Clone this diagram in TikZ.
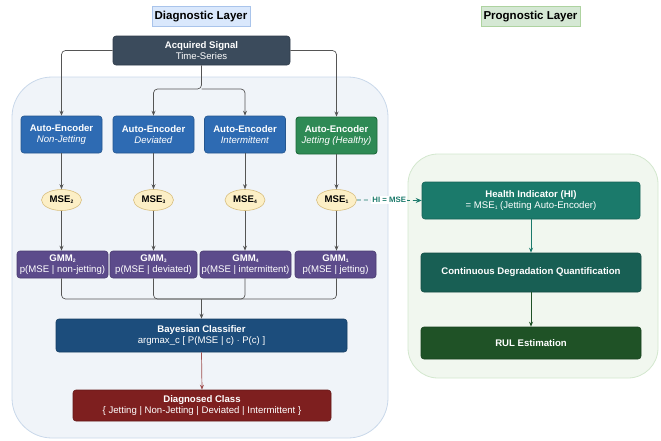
\documentclass[tikz,border=0pt]{standalone}
\usepackage{fontspec}
\setmainfont{Liberation Sans}
\usetikzlibrary{arrows.meta,calc,shapes.geometric}
\newcommand\subidx[1]{\raisebox{-1.2pt}{\fontsize{5}{5}\selectfont #1}}
\definecolor{acqc}{HTML}{3B4B5C}
\definecolor{aeblue}{HTML}{2E6BB3}
\definecolor{aegreen}{HTML}{2E8A55}
\definecolor{aegreendk}{HTML}{1D6A3B}
\definecolor{msefill}{HTML}{FCEFC6}
\definecolor{msedraw}{HTML}{D8BE7E}
\definecolor{gmmc}{HTML}{5C4B8B}
\definecolor{bayesc}{HTML}{1C4D7C}
\definecolor{diagc}{HTML}{7E1F1F}
\definecolor{hic}{HTML}{1B7A6B}
\definecolor{cdqc}{HTML}{185F54}
\definecolor{rulc}{HTML}{1F5226}
\definecolor{diagbg}{HTML}{F0F4F9}
\definecolor{diagbd}{HTML}{C9D8EA}
\definecolor{progbg}{HTML}{F1F7EF}
\definecolor{progbd}{HTML}{D3E7CE}
\definecolor{dlfill}{HTML}{DAE8FC}
\definecolor{dldraw}{HTML}{A9C4EB}
\definecolor{plfill}{HTML}{D5E8D4}
\definecolor{pldraw}{HTML}{AED3A0}
\definecolor{linec}{HTML}{555555}
\definecolor{arrred}{HTML}{A05050}
\tikzset{
  basefont/.style={font=\fontsize{9.6}{11.2}\selectfont},
  box/.style={basefont, text=white, rounded corners=3, inner sep=0pt, align=center, draw=#1!80!black, fill=#1, line width=0.6pt},
  laytitle/.style={font=\fontsize{11.5}{13}\selectfont\bfseries, inner sep=0pt, minimum height=20, line width=0.6pt},
  msenode/.style={ellipse, font=\fontsize{9.6}{11}\selectfont\bfseries, fill=msefill, draw=msedraw, line width=0.6pt, minimum width=40, minimum height=21, inner sep=0pt},
  conn/.style={draw=linec, line width=0.7pt, rounded corners=4},
  arr/.style={conn, -{Stealth[length=5pt,width=4pt]}},
}
\begin{document}
\begin{tikzpicture}[x=1pt,y=-1pt]
\useasboundingbox (0,0) rectangle (661,440);
% containers
\draw[fill=diagbg, draw=diagbd, line width=0.8pt, rounded corners=40] (12,77) rectangle (388,438);
\draw[fill=progbg, draw=progbd, line width=0.8pt, rounded corners=30] (408,154) rectangle (658,378);
% layer titles
\node[laytitle, fill=dlfill, draw=dldraw, minimum width=98] (dl) at (201,16.5) {Diagnostic Layer};
\node[laytitle, fill=plfill, draw=pldraw, minimum width=99] (pl) at (530.5,16.5) {Prognostic Layer};
% acquired signal
\node[box=acqc, minimum width=177, minimum height=29] (acq) at (201.5,50.5) {\textbf{Acquired Signal}\\Time-Series};
% auto-encoders
\node[box=aeblue, minimum width=81, minimum height=37] (ae1) at (61.5,134.5) {\textbf{Auto-Encoder}\\\textit{Non-Jetting}};
\node[box=aeblue, minimum width=81, minimum height=37] (ae2) at (153.5,134.5) {\textbf{Auto-Encoder}\\\textit{Deviated}};
\node[box=aeblue, minimum width=81, minimum height=37] (ae3) at (245,134.5) {\textbf{Auto-Encoder}\\\textit{Intermittent}};
\node[box=aegreen, draw=aegreendk, line width=0.9pt, minimum width=81, minimum height=37] (ae4) at (336.5,135.5) {\textbf{Auto-Encoder}\\\textit{Jetting (Healthy)}};
% MSE
\node[msenode] (m1) at (61.5,200) {MSE\subidx{2}};
\node[msenode] (m2) at (153.5,200) {MSE\subidx{3}};
\node[msenode] (m3) at (245,200) {MSE\subidx{4}};
\node[msenode] (m4) at (336.5,200) {MSE\subidx{1}};
% GMM
\node[box=gmmc, minimum width=91, minimum height=27] (g1) at (62.5,264.5) {\textbf{GMM\subidx{2}}\\p(MSE | non-jetting)};
\node[box=gmmc, minimum width=87, minimum height=27] (g2) at (153.5,264.5) {\textbf{GMM\subidx{3}}\\p(MSE | deviated)};
\node[box=gmmc, minimum width=91, minimum height=27] (g3) at (245.5,264.5) {\textbf{GMM\subidx{4}}\\p(MSE | intermittent)};
\node[box=gmmc, minimum width=81, minimum height=27] (g4) at (335.5,264.5) {\textbf{GMM\subidx{1}}\\p(MSE | jetting)};
% bayes & diagnosed
\node[box=bayesc, minimum width=291, minimum height=33] (bay) at (201.5,335.5) {\textbf{Bayesian Classifier}\\argmax\_c [ P(MSE | c) $\cdot$ P(c) ]};
\node[box=diagc, minimum width=258, minimum height=31] (dc) at (202,405.5) {\textbf{Diagnosed Class}\\\{ Jetting | Non-Jetting | Deviated | Intermittent \}};
% prognostic
\node[box=hic, minimum width=218, minimum height=37] (hi) at (531,200.5) {\textbf{Health Indicator (HI)}\\= MSE\subidx{1} (Jetting Auto-Encoder)};
\node[box=cdqc, minimum width=220, minimum height=39] (cdq) at (531,272.5) {\textbf{Continuous Degradation Quantification}};
\node[box=rulc, minimum width=220, minimum height=32] (rul) at (531,343) {\textbf{RUL Estimation}};
% coordinates
\coordinate (split) at (201.5,89);
\coordinate (join) at (201.5,299);
% connectors from acquired signal
\draw[arr] (acq.west) -| (ae1.north);
\draw[arr] (acq.east) -| (ae4.north);
\draw[arr] (acq.south) -- (split) -| (ae2.north);
\draw[arr] (split) -| (ae3.north);
% AE -> MSE -> GMM
\foreach \i in {1,2,3,4} {
  \draw[arr] (ae\i.south) -- (m\i.north);
  \draw[arr] (m\i.south) -- (m\i.south |- g\i.north);
}
% GMM -> join
\draw[conn] (m1.south |- g1.south) |- (join);
\draw[conn] (m2.south |- g2.south) |- (join);
\draw[conn] (m3.south |- g3.south) |- (join);
\draw[conn] (m4.south |- g4.south) |- (join);
\draw[arr] (join) -- (bay.north);
\draw[arr, draw=arrred] (bay.south) -- (dc.north);
% HI link
\draw[draw=hic, line width=0.8pt, dash pattern=on 4pt off 3pt, -{Stealth[length=6pt,width=5pt]}] (m4.east) -- node[fill=white, inner sep=1pt, text=hic, font=\fontsize{7.8}{9}\selectfont\bfseries] (hil) {HI = MSE} (hi.west);
\draw[draw=hic, line width=0.8pt, -{Stealth[length=5pt,width=4pt]}] (hi.south) -- (cdq.north);
\draw[draw=rulc, line width=0.8pt, -{Stealth[length=5pt,width=4pt]}] (cdq.south) -- (rul.north);
\end{tikzpicture}
\end{document}
